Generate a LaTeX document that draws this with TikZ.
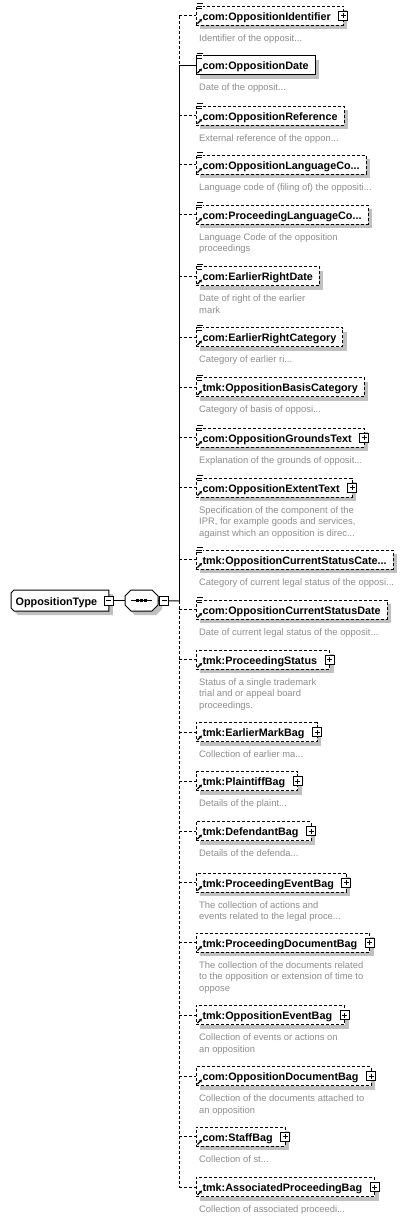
\documentclass[tikz,border=0pt]{standalone}
\usepackage{fontspec}
\setmainfont{Liberation Sans}
\usepackage{xcolor}
\usepackage{tikz}
\usetikzlibrary{arrows.meta,positioning,shadows,backgrounds}
\definecolor{descc}{HTML}{8C8C8C}
\definecolor{shadc}{HTML}{C0C0C0}
\tikzset{
  link/.style={line width=1pt},
  opt/.style={dash pattern=on 3pt off 2pt},
  req/.style={solid},
  shad/.style={drop shadow={shadow xshift=4pt,shadow yshift=-4pt,fill=shadc,opacity=1}},
  elem/.style={draw,line width=1pt,fill=white,anchor=west,outer sep=0pt,shad,
    font=\fontsize{10.8}{13}\selectfont\bfseries,inner xsep=6.5pt,inner ysep=0pt,
    minimum height=19pt,text height=10pt,text depth=1pt},
  desc/.style={anchor=north west,inner sep=0pt,align=left,text=descc,
    font=\fontsize{9.4}{11.5}\selectfont},
  typebox/.style={anchor=west,outer sep=0pt,font=\fontsize{10.8}{13}\selectfont\bfseries,
    inner xsep=4.7pt,inner ysep=0pt,minimum height=21pt,text height=10pt,text depth=1pt},
  seqbox/.style={inner sep=0pt,outer sep=0pt,minimum width=33pt,minimum height=21pt},
  pics/minusbtn/.style={code={
    \draw[fill=white,line width=1pt] (-4.5,-4.5) rectangle (4.5,4.5);
    \draw[line width=1pt] (-2.5,0) -- (2.5,0);}},
  pics/expand/.style={code={
    \draw[fill=white,line width=1pt] (-4.5,-4.5) rectangle (4.5,4.5);
    \draw[line width=1pt] (-2.5,0) -- (2.5,0) (0,-2.5) -- (0,2.5);}},
  pics/eqn/.style={code={
    \fill[white] (0.5,-3) rectangle (7,3);
    \draw[line width=1pt] (1,-2.5) -- (7,-2.5) (1,0) -- (6,0) (1,2.5) -- (6,2.5);}},
  pics/refmark/.style={code={
    \fill[white] (0.5,-6) rectangle (7,-0.5);
    \draw[line width=1.2pt,-{Stealth[length=3pt,width=3.5pt]}] (1.5,-1.5) -- (6,-6);}},
  pics/nix/.style={code={}}
}
\begin{document}
\begin{tikzpicture}[x=1pt,y=-1pt]
\useasboundingbox (0,0) rectangle (410,1219);
\coordinate (tr) at (179,0);
\coordinate (jn) at (179,601);
% children of the sequence
\foreach \i/\y/\st/\gap/\ic/\pl/\lbl/\dsc in {
  1/15.5/opt/6pt/eqn/expand/{com:OppositionIdentifier}/{Identifier of the opposit...},
  2/65/req/0pt/eqn/nix/{com:OppositionDate}/{Date of the opposit...},
  3/115.5/opt/0pt/eqn/nix/{com:OppositionReference}/{External reference of the oppon...},
  4/164.5/opt/0pt/eqn/nix/{com:OppositionLanguageCo...}/{Language code of (filing of) the oppositi...},
  5/214.5/opt/0pt/eqn/nix/{com:ProceedingLanguageCo...}/{Language Code of the opposition\\proceedings},
  6/276/opt/0pt/eqn/nix/{com:EarlierRightDate}/{Date of right of the earlier\\mark},
  7/337/opt/0pt/eqn/nix/{com:EarlierRightCategory}/{Category of earlier ri...},
  8/387/opt/0pt/eqn/nix/{tmk:OppositionBasisCategory}/{Category of basis of opposi...},
  9/437.5/opt/6pt/eqn/expand/{com:OppositionGroundsText}/{Explanation of the grounds of opposit...},
  10/487.5/opt/6pt/eqn/expand/{com:OppositionExtentText}/{Specification of the component of the\\IPR, for example goods and services,\\against which an opposition is direc...},
  11/559.5/opt/0pt/eqn/nix/{tmk:OppositionCurrentStatusCate...}/{Category of current legal status of the opposi...},
  12/609.5/opt/0pt/eqn/nix/{com:OppositionCurrentStatusDate}/{Date of current legal status of the opposit...},
  13/659.5/opt/6pt/nix/expand/{tmk:ProceedingStatus}/{Status of a single trademark\\trial and or appeal board\\proceedings.},
  14/732/opt/6pt/nix/expand/{tmk:EarlierMarkBag}/{Collection of earlier ma...},
  15/781/opt/6pt/nix/expand/{tmk:PlaintiffBag}/{Details of the plaint...},
  16/831/opt/6pt/nix/expand/{tmk:DefendantBag}/{Details of the defenda...},
  17/882.5/opt/6pt/nix/expand/{tmk:ProceedingEventBag}/{The collection of actions and\\events related to the legal proce...},
  18/942.5/opt/6pt/nix/expand/{tmk:ProceedingDocumentBag}/{The collection of the documents related\\to the opposition or extension of time to\\oppose},
  19/1015/opt/6pt/nix/expand/{tmk:OppositionEventBag}/{Collection of events or actions on\\an opposition},
  20/1076/opt/6pt/nix/expand/{com:OppositionDocumentBag}/{Collection of the documents attached to\\an opposition},
  21/1136.5/opt/6pt/nix/expand/{com:StaffBag}/{Collection of st...},
  22/1187/opt/6pt/nix/expand/{tmk:AssociatedProceedingBag}/{Collection of associated proceedi...}}
{
  \node[elem,\st] (c\i) at (196,\y) {\lbl\hspace*{\gap}};
  \node[desc] (d\i) at ([xshift=3pt,yshift=-9.3pt]c\i.south west) {\dsc};
  \draw[link,\st] (c\i.west -| tr) -- (c\i.west);
  \pic at (c\i.north west) {\ic};
  \pic at (c\i.south west) {refmark};
  \pic at (c\i.east) {\pl};
}
% the type and its sequence
\node[typebox] (otype) at (11,600.5) {OppositionType\hspace*{7pt}};
\begin{scope}[on background layer]
\draw[link,fill=white,shad] ([xshift=3pt]otype.north west) -- (otype.north east)
  -- (otype.south east) -- ([xshift=3pt]otype.south west)
  -- ([yshift=3pt]otype.south west) -- ([yshift=-3pt]otype.north west) -- cycle;
\end{scope}
\node[seqbox] (seq) at (141.5,600.5) {};
\draw[link,fill=white,shad] ([xshift=6pt]seq.north west) -- ([xshift=-6pt]seq.north east)
  -- ([yshift=-6pt]seq.north east) -- ([yshift=6pt]seq.south east)
  -- ([xshift=-6pt]seq.south east) -- ([xshift=6pt]seq.south west)
  -- ([yshift=6pt]seq.south west) -- ([yshift=-6pt]seq.north west) -- cycle;
\draw[link] (otype.east) -- (seq.west);
\draw[link] (seq.east) -- (jn);
\draw[link] ([xshift=6pt]seq.west) -- ([xshift=-6pt]seq.east);
\foreach \dx in {-4,0,4}
  \fill ([xshift=\dx pt]seq.center) +(-1.4,-1.4) rectangle +(1.4,1.4);
\pic at (otype.east) {minusbtn};
\pic at ([xshift=6pt]seq.east) {minusbtn};
% trunk
\draw[link,opt] (c1.west -| tr) -- (c2.west -| tr);
\draw[link] (c2.west -| tr) -- (jn);
\draw[link,opt] (jn) -- (c22.west -| tr);
\end{tikzpicture}
\end{document}
